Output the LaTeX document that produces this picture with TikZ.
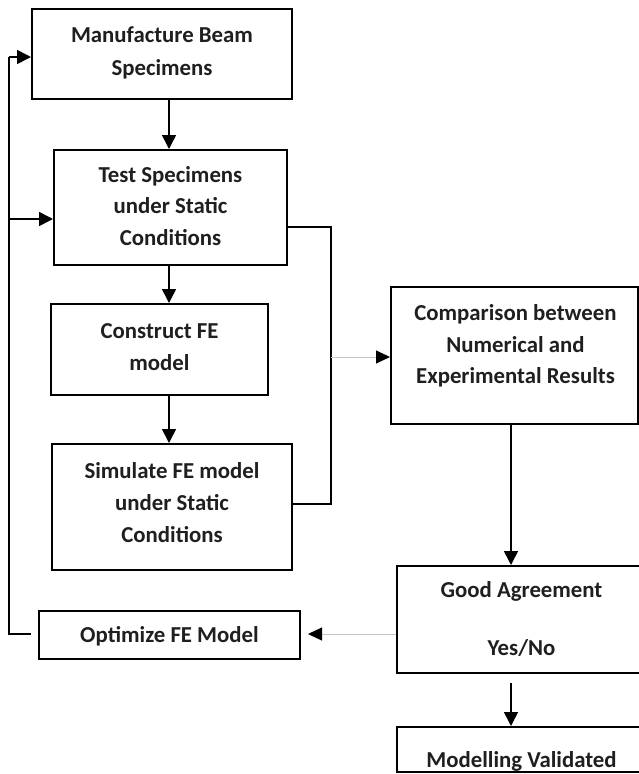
\documentclass[tikz,border=0pt]{standalone}
\usepackage{fontspec}
\setmainfont{Carlito}
\usetikzlibrary{arrows.meta}
\begin{document}
\begin{tikzpicture}[x=1pt,y=-1pt,
  box/.style={draw=black, line width=2pt, inner sep=0pt, rectangle},
  txt/.style={font=\bfseries\fontsize{22.8}{32}\selectfont, text=black!88, anchor=base, inner sep=0pt},
  conn/.style={draw=black, line width=1.6pt, -{Triangle[length=14pt,width=14pt]}},
  line/.style={draw=black, line width=1.6pt},
  gconn/.style={draw=black!22, line width=1pt, -{Triangle[length=14pt,width=13pt,color=black]}}]
\clip (0,0) rectangle (639,774);
\fill[white] (0,0) rectangle (639,774);

% boxes
\node[box, minimum width=260pt, minimum height=90pt]  (b1) at (162,54) {};
\node[box, minimum width=233pt, minimum height=115pt] (b2) at (170.5,207.5) {};
\node[box, minimum width=217pt, minimum height=91pt]  (b3) at (159.5,349.5) {};
\node[box, minimum width=240pt, minimum height=126pt] (b4) at (172,507) {};
\node[box, minimum width=261pt, minimum height=48pt]  (b5) at (169.5,635) {};
\node[box, minimum width=247pt, minimum height=137pt] (b6) at (514.5,355.5) {};
\node[box, minimum width=253pt, minimum height=107pt] (b7) at (523.5,619.5) {};
\node[box, minimum width=253pt, minimum height=45pt]  (b8) at (523.5,749.5) {};

% texts
\node[txt] (t1a) at (162,42) {Manufacture Beam};
\node[txt] (t1b) at (162,75) {Specimens};
\node[txt] (t2a) at (170.5,182) {Test Specimens};
\node[txt] (t2b) at (170.5,213.5) {under Static};
\node[txt] (t2c) at (170.5,245) {Conditions};
\node[txt] (t3a) at (159.5,338) {Construct FE};
\node[txt] (t3b) at (159.5,370) {model};
\node[txt] (t4a) at (172,478.5) {Simulate FE model};
\node[txt] (t4b) at (172,510) {under Static};
\node[txt] (t4c) at (172,542) {Conditions};
\node[txt] (t5)  at (169.5,642.5) {Optimize FE Model};
\node[txt] (t6a) at (515.5,320.5) {Comparison between};
\node[txt] (t6b) at (515.5,352) {Numerical and};
\node[txt] (t6c) at (515.5,383.5) {Experimental Results};
\node[txt] (t7a) at (521.5,597) {Good Agreement};
\node[txt] (t7b) at (521.5,655) {Yes/No};
\node[txt] (t8)  at (521.5,767) {Modelling Validated};

% coordinates for connector corners
\coordinate (loopL) at (9,634);
\coordinate (loopT) at (9,57);
\coordinate (loopM) at (9,219);
\coordinate (rTop) at (331,227);
\coordinate (rBot) at (331,504);
\coordinate (rMid) at (331,357);

% vertical flow
\draw[conn] (b1.south -| 169,0) -- (b2.north -| 169,0);
\draw[conn] (b2.south -| 169,0) -- (b3.north -| 169,0);
\draw[conn] (b3.south -| 169,0) -- (b4.north -| 169,0);
\draw[conn] (b6.south -| 511,0) -- (b7.north -| 511,0);
\draw[conn] ([yshift=-9pt]b7.south -| 511,0) -- (b8.north -| 511,0);

% bracket to comparison
\draw[line] (b2.east |- rTop) -- (rTop) -- (rBot) -- (b4.east |- rBot);
\draw[gconn] (rMid) -- (b6.west |- rMid);

% feedback
\draw[gconn] (b7.west |- 0,634) -- ([xshift=7pt]b5.east |- 0,634);
\draw[line] ([xshift=-7pt]b5.west |- loopL) -- (loopL) -- (loopT);
\draw[conn] (loopT) -- (b1.west |- loopT);
\draw[conn] (loopM) -- (b2.west |- loopM);
\end{tikzpicture}
\end{document}
